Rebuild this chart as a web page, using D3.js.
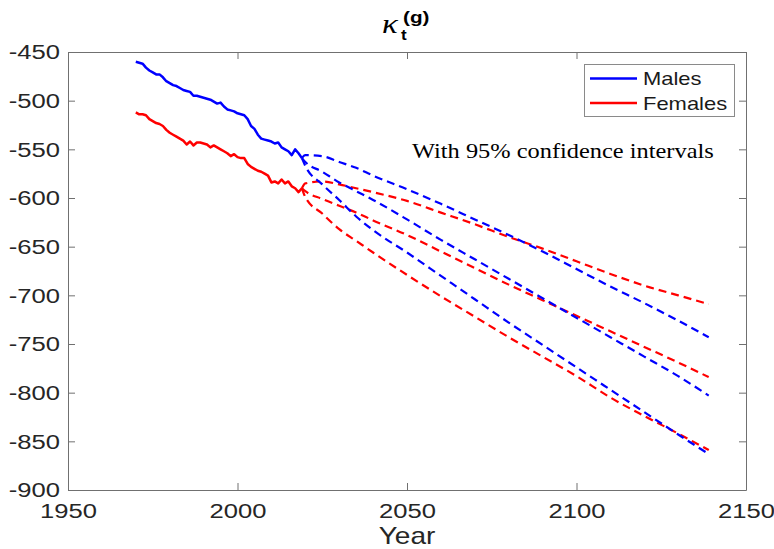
<!DOCTYPE html>
<html>
<head>
<meta charset="utf-8">
<script src="https://cdn.jsdelivr.net/npm/d3@7"></script>
<style>
  body { margin: 0; background: #fff; }
  svg { display: block; }
  .axis text { font-family: "Liberation Sans", Arial, sans-serif; font-size: 21px; fill: #262626; }
  .axis path, .axis line { stroke: #707070; stroke-width: 1; }
</style>
</head>
<body>
<div id="chart"></div>
<script>
// historical kappa_t(g), 1970-2019
const histYears = d3.range(1970, 2020);
const malesHist = [-460, -461, -462, -466, -469, -471, -473, -473, -476, -480,
  -482, -484, -485, -487, -489, -490, -491, -495, -495, -496,
  -497, -498, -499, -501, -503, -502, -506, -509, -510, -511,
  -513, -514, -515, -519, -526, -529, -535, -539, -540, -541,
  -542, -544, -543, -548, -550, -552, -556, -550, -554, -559];
const femalesHist = [-512, -514, -514, -515, -519, -521, -523, -524, -526, -530,
  -533, -535, -537, -539, -541, -545, -542, -546, -543, -543,
  -544, -545, -548, -546, -548, -550, -552, -554, -557, -555,
  -558, -559, -559, -565, -568, -570, -572, -573, -575, -577,
  -584, -583, -585, -581, -585, -583, -588, -590, -594, -590];

// forecasts with 95% intervals
const fcYears = [2019, 2020, 2025, 2030, 2035, 2040, 2050, 2060, 2070, 2080, 2090, 2100, 2110, 2120, 2130, 2139];
const malesUpper   = [-559, -556, -557, -563, -569, -577, -591, -606, -622, -638, -655, -673, -691, -708, -726, -743];
const malesMid     = [-559, -563, -573, -584, -593, -602, -622, -643, -663, -683, -703, -723, -743, -763, -783, -803];
const malesLower   = [-559, -567, -586, -602, -619, -633, -656, -680, -704, -728, -751, -774, -797, -820, -843, -863];
const femalesUpper = [-590, -585, -583, -586, -590, -594, -603, -615, -627, -640, -652, -665, -678, -690, -700, -709];
const femalesMid   = [-590, -593, -601, -608, -615, -623, -638, -655, -672, -689, -705, -721, -737, -753, -769, -784];
const femalesLower = [-590, -599, -616, -632, -644, -656, -679, -701, -722, -743, -763, -783, -805, -824, -842, -859];

const xTicks = [1950, 2000, 2050, 2100, 2150];
const yTicks = [-450, -500, -550, -600, -650, -700, -750, -800, -850, -900];
const seriesNames = ["Males", "Females"];
const colors = ["#0000ff", "#ff0000"];

const width = 774, height = 549;
const margin = { top: 52, right: 28, bottom: 59, left: 68 };
const sx = 1.22; // text looks horizontally stretched in the original

const svg = d3.select("#chart").append("svg")
  .attr("width", width)
  .attr("height", height);

const xScale = d3.scaleLinear()
  .domain([1950, 2150])
  .range([margin.left, width - margin.right]);
const yScale = d3.scaleLinear()
  .domain([-900, -450])
  .range([height - margin.bottom, margin.top]);

const plain = d => String(d); // keep the short hyphen minus

// box + ticks on all four sides, ticks pointing inward
svg.append("g").attr("class", "axis")
  .attr("transform", `translate(0,${height - margin.bottom})`)
  .call(d3.axisBottom(xScale).tickValues(xTicks).tickFormat(plain)
    .tickSizeInner(-7).tickSizeOuter(0).tickPadding(13));
svg.append("g").attr("class", "axis")
  .attr("transform", `translate(0,${margin.top})`)
  .call(d3.axisTop(xScale).tickValues(xTicks).tickFormat("")
    .tickSizeInner(-7).tickSizeOuter(0));
svg.append("g").attr("class", "axis")
  .attr("transform", `translate(${margin.left},0)`)
  .call(d3.axisLeft(yScale).tickValues(yTicks).tickFormat(plain)
    .tickSizeInner(-7).tickSizeOuter(0).tickPadding(8));
svg.append("g").attr("class", "axis")
  .attr("transform", `translate(${width - margin.right},0)`)
  .call(d3.axisRight(yScale).tickValues(yTicks).tickFormat("")
    .tickSizeInner(-7).tickSizeOuter(0));

svg.selectAll(".axis text").attr("transform", `scale(${sx},1)`)
  .attr("x", function() { return +d3.select(this).attr("x") / sx; });

// lines
const line = d3.line()
  .x(d => xScale(d[0]))
  .y(d => yScale(d[1]));
const smooth = d3.line()
  .x(d => xScale(d[0]))
  .y(d => yScale(d[1]))
  .curve(d3.curveMonotoneX);

const plot = svg.append("g");

[malesHist, femalesHist].forEach((vals, i) => {
  plot.append("path")
    .datum(histYears.map((y, j) => [y, vals[j]]))
    .attr("fill", "none")
    .attr("stroke", colors[i])
    .attr("stroke-width", 2.5)
    .attr("stroke-linejoin", "round")
    .attr("d", line);
});

const forecasts = [
  [femalesUpper, 1], [femalesMid, 1], [femalesLower, 1],
  [malesUpper, 0], [malesMid, 0], [malesLower, 0]
];
forecasts.forEach(([vals, i]) => {
  plot.append("path")
    .datum(fcYears.map((y, j) => [y, vals[j]]))
    .attr("fill", "none")
    .attr("stroke", colors[i])
    .attr("stroke-width", 2.2)
    .attr("stroke-dasharray", "8,5")
    .attr("d", smooth);
});

// legend
const legend = svg.append("g");
legend.append("rect")
  .attr("x", 584.5).attr("y", 64.5)
  .attr("width", 150).attr("height", 52)
  .attr("fill", "#fff").attr("stroke", "#8a8a8a");
seriesNames.forEach((name, i) => {
  const ly = 78.5 + i * 24.5;
  legend.append("line")
    .attr("x1", 590).attr("x2", 637)
    .attr("y1", ly).attr("y2", ly)
    .attr("stroke", colors[i]).attr("stroke-width", 2.5);
  legend.append("text")
    .attr("transform", `translate(643,${ly + 6.5}) scale(${sx},1)`)
    .attr("font-family", "Liberation Sans, Arial, sans-serif")
    .attr("font-size", 18)
    .attr("fill", "#1a1a1a")
    .text(name);
});

svg.append("text")
  .attr("transform", `translate(412,158) scale(${sx},1)`)
  .attr("font-family", "Liberation Serif, Times New Roman, serif")
  .attr("font-size", 20)
  .attr("fill", "#000")
  .text("With 95% confidence intervals");

// x label
svg.append("text")
  .attr("transform", `translate(${xScale(2050)},544) scale(${sx},1)`)
  .attr("text-anchor", "middle")
  .attr("font-family", "Liberation Sans, Arial, sans-serif")
  .attr("font-size", 23)
  .attr("fill", "#262626")
  .text("Year");

// title kappa_t^(g)
const title = svg.append("g").attr("fill", "#000")
  .attr("font-family", "Liberation Sans, Arial, sans-serif");
title.append("text")
  .attr("transform", `translate(382,33) scale(${sx},1)`)
  .attr("font-family", "Liberation Serif, Times New Roman, serif")
  .attr("font-style", "italic")
  .attr("font-size", 27)
  .text("κ");
title.append("text")
  .attr("transform", `translate(401,40) scale(${sx},1)`)
  .attr("font-weight", "bold")
  .attr("font-size", 14)
  .text("t");
title.append("text")
  .attr("transform", `translate(403,23) scale(${sx},1)`)
  .attr("font-weight", "bold")
  .attr("font-size", 17)
  .text("(g)");
</script>
</body>
</html>
